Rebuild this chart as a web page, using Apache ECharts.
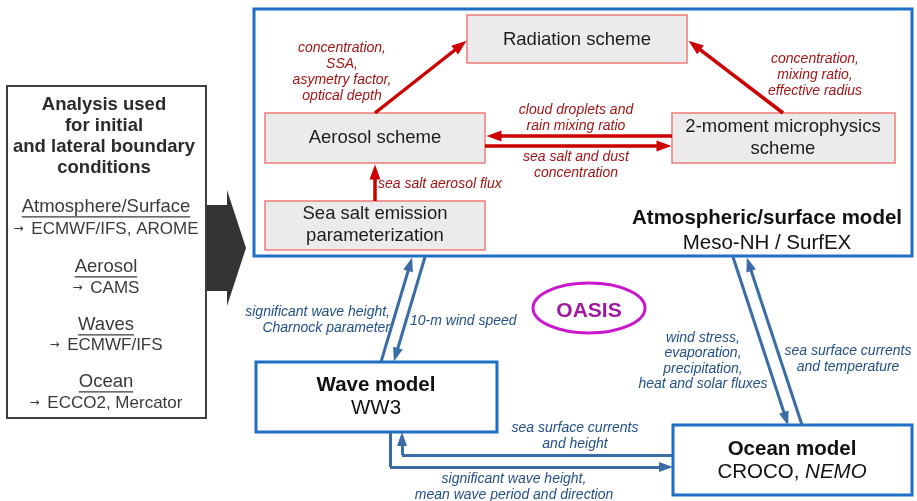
<!DOCTYPE html>
<html>
<head>
<meta charset="utf-8">
<script src="https://cdn.jsdelivr.net/npm/echarts@6/dist/echarts.min.js"></script>
<style>
  html, body { margin: 0; padding: 0; background: #fff; }
  #chartContainer { width: 917px; height: 501px; }
</style>
</head>
<body>
<div id="chartContainer"></div>
<script>
// Textos del diagrama
const analysisTitle = ['Analysis used', 'for initial', 'and lateral boundary', 'conditions'];
const analysisSources = ['Atmosphere/Surface', 'Aerosol', 'Waves', 'Ocean'];
const analysisProducts = ['\u2192 ECMWF/IFS, AROME', '\u2192 CAMS', '\u2192 ECMWF/IFS', '\u2192 ECCO2, Mercator'];
const schemeNames = ['Radiation scheme', 'Aerosol scheme', 'Sea salt emission\nparameterization', '2-moment microphysics\nscheme'];
const modelNames = ['Atmospheric/surface model', 'Wave model', 'Ocean model'];
const modelCodes = ['Meso-NH / SurfEX', 'WW3', 'CROCO, NEMO'];
const italicCodes = ['NEMO'];
const aerosolFluxes = [
  'concentration,\nSSA,\nasymetry factor,\noptical depth',
  'concentration,\nmixing ratio,\neffective radius',
  'cloud droplets and\nrain mixing ratio',
  'sea salt and dust\nconcentration',
  'sea salt aerosol flux'
];
const couplingFluxes = [
  'significant wave height,\nCharnock parameter',
  '10-m wind speed',
  'wind stress,\nevaporation,\nprecipitation,\nheat and solar fluxes',
  'sea surface currents\nand temperature',
  'sea surface currents\nand height',
  'significant wave height,\nmean wave period and direction'
];
const couplerName = 'OASIS';

// Disposición (coordenadas del lienzo, eje y invertido)
const analysisBox = [7, 86, 206, 418];
const schemeBoxes = [[467, 15, 687, 63], [265, 113, 485, 163], [265, 201, 485, 250], [672, 113, 895, 163]];
const modelBoxes = [[254, 9, 912, 256], [256, 362, 497, 432], [673, 425, 912, 495]];
const schemeTextAt = [[577, 40], [375, 138], [375, 225], [783, 138]];
const modelNameAt = [[767, 218], [376, 385], [792, 449]];
const modelCodeAt = [[767, 243], [376, 408], [792, 472]];
const analysisTitleAt = [104, 105];
const sourceRows = [207, 267, 325, 382];
const productRows = [229, 288, 345, 403];
const aerosolFluxAt = [[342, 72, 'center'], [815, 75, 'center'], [576, 118, 'center'], [576, 165, 'center'], [378, 184, 'left']];
const couplingFluxAt = [[390, 320, 'right'], [410, 321, 'left'], [703, 361, 'center'], [848, 359, 'center'], [575, 436, 'center'], [514, 487, 'center']];
const oasisAt = { c: [589, 308], rx: 56, ry: 25 };
const bigArrow = [[207, 205], [227, 205], [227, 190], [246, 248], [227, 306], [227, 291], [207, 291]];

const redArrows = [
  [[375, 113], [460.6, 45.5]],
  [[783, 113], [694.5, 45.3]],
  [[672, 136], [494, 136]],
  [[485, 146], [664, 146]],
  [[375, 201], [375, 172]]
];
const blueArrows = [
  [[381, 362], [410.1, 264.2]],
  [[425, 257], [395.9, 354.8]],
  [[733, 257], [786, 418.8]],
  [[802, 425], [749, 264.2]],
  [[402, 455], [402, 439]],
  [[390, 467], [666, 467]]
];
const blueLinks = [
  [[672, 455], [402, 455]],
  [[390, 432], [390, 467]]
];

const fontFamily = '"Liberation Sans", Arial, sans-serif';
const textStyles = {
  title: { fontSize: 18.5, fontWeight: 'bold', fill: '#2b2b2b', lineHeight: 21 },
  source: { fontSize: 18.5, fill: '#3a3a3a', underline: true },
  product: { fontSize: 17, fill: '#3a3a3a' },
  scheme: { fontSize: 18.5, fill: '#1c1c1c', lineHeight: 22 },
  modelName: { fontSize: 20.5, fontWeight: 'bold', fill: '#111' },
  modelCode: { fontSize: 20.5, fill: '#111' },
  red: { fontSize: 14, fontStyle: 'italic', fill: '#a31616', lineHeight: 16 },
  blue: { fontSize: 14, fontStyle: 'italic', fill: '#22508a', lineHeight: 15.5 },
  oasis: { fontSize: 21, fontWeight: 'bold', fill: '#a0189e' }
};

const measureCtx = document.createElement('canvas').getContext('2d');
function textWidth(str, st) {
  measureCtx.font = (st.fontWeight || 'normal') + ' ' + st.fontSize + 'px ' + fontFamily;
  return measureCtx.measureText(str).width;
}

// Lista de textos
const textSpecs = [];
analysisTitle.forEach((t, i) => textSpecs.push({ text: t, at: [analysisTitleAt[0], analysisTitleAt[1] + i * 21], st: 'title' }));
analysisSources.forEach((t, i) => textSpecs.push({ text: t, at: [106, sourceRows[i]], st: 'source' }));
analysisProducts.forEach((t, i) => textSpecs.push({ text: t, at: [106, productRows[i]], st: 'product' }));
schemeNames.forEach((t, i) => textSpecs.push({ text: t, at: schemeTextAt[i], st: 'scheme' }));
modelNames.forEach((t, i) => textSpecs.push({ text: t, at: modelNameAt[i], st: 'modelName' }));
modelCodes.forEach((t, i) => textSpecs.push({ text: t, at: modelCodeAt[i], st: 'modelCode' }));
aerosolFluxes.forEach((t, i) => textSpecs.push({ text: t, at: aerosolFluxAt[i].slice(0, 2), align: aerosolFluxAt[i][2], st: 'red' }));
couplingFluxes.forEach((t, i) => textSpecs.push({ text: t, at: couplingFluxAt[i].slice(0, 2), align: couplingFluxAt[i][2], st: 'blue' }));
textSpecs.push({ text: couplerName, at: [oasisAt.c[0], oasisAt.c[1] + 3], st: 'oasis' });

// Cajas
const boxSpecs = [{ r: analysisBox, kind: 'analysis' }]
  .concat(modelBoxes.map(r => ({ r: r, kind: 'model' })))
  .concat(schemeBoxes.map(r => ({ r: r, kind: 'scheme' })));
const boxStyles = {
  analysis: { fill: '#fff', stroke: '#3d3d3d', lineWidth: 2 },
  model: { fill: '#fff', stroke: '#1f6fc5', lineWidth: 3 },
  scheme: { fill: '#ebebeb', stroke: '#f07a7a', lineWidth: 1.5 }
};

function renderBox(params, api) {
  const b = boxSpecs[params.dataIndex];
  const p0 = api.coord([api.value(0), api.value(1)]);
  const p1 = api.coord([api.value(2), api.value(3)]);
  return {
    type: 'rect',
    shape: { x: p0[0], y: p0[1], width: p1[0] - p0[0], height: p1[1] - p0[1] },
    style: boxStyles[b.kind]
  };
}

function renderText(params, api) {
  const s = textSpecs[params.dataIndex];
  const st = textStyles[s.st];
  const p = api.coord([api.value(0), api.value(1)]);
  let text = s.text;
  const rich = {};
  italicCodes.forEach(w => {
    if (s.st === 'modelCode' && text.indexOf(w) >= 0) {
      text = text.replace(w, '{i|' + w + '}');
      rich.i = { fontSize: st.fontSize, fontStyle: 'italic', fontFamily: fontFamily, fill: st.fill };
    }
  });
  if (text.charAt(0) === '\u2192') {
    // flecha pequeña como en el original
    text = '{a|\u2192}' + text.slice(1);
    rich.a = { fontSize: 12, fontFamily: '"DejaVu Sans", sans-serif', fill: st.fill, padding: [0, 3, 0, 0] };
  }
  const el = {
    type: 'text',
    x: p[0], y: p[1],
    style: {
      text: text,
      rich: rich,
      fontFamily: fontFamily,
      fontSize: st.fontSize,
      fontWeight: st.fontWeight || 'normal',
      fontStyle: st.fontStyle || 'normal',
      fill: st.fill,
      lineHeight: st.lineHeight,
      align: s.align || 'center',
      verticalAlign: 'middle'
    }
  };
  if (!st.underline) return el;
  const w = textWidth(s.text, st);
  const uy = p[1] + st.fontSize * 0.53;
  return {
    type: 'group',
    children: [el, {
      type: 'line',
      shape: { x1: p[0] - w / 2, y1: uy, x2: p[0] + w / 2, y2: uy },
      style: { stroke: st.fill, lineWidth: 1.2 }
    }]
  };
}

function renderShapes(params, api) {
  if (params.dataIndex === 0) {
    const pts = bigArrow.map(q => api.coord(q));
    return { type: 'polygon', shape: { points: pts }, style: { fill: '#333333' } };
  }
  const c = api.coord([api.value(0), api.value(1)]);
  return {
    type: 'ellipse',
    shape: { cx: c[0], cy: c[1], rx: oasisAt.rx, ry: oasisAt.ry },
    style: { fill: 'none', stroke: '#cc16cc', lineWidth: 3 }
  };
}

const chart = echarts.init(document.getElementById('chartContainer'));

chart.setOption({
  animation: false,
  grid: { left: 0, right: 0, top: 0, bottom: 0 },
  xAxis: { type: 'value', min: 0, max: 917, show: false },
  yAxis: { type: 'value', min: 0, max: 501, inverse: true, show: false },
  series: [
    {
      type: 'custom', name: 'boxes', z: 1,
      renderItem: renderBox,
      data: boxSpecs.map(b => b.r)
    },
    {
      type: 'custom', name: 'shapes', z: 2,
      renderItem: renderShapes,
      data: [bigArrow[0], oasisAt.c]
    },
    {
      type: 'lines', name: 'aerosol links', coordinateSystem: 'cartesian2d', z: 3,
      symbol: ['none', 'triangle'], symbolSize: [0, [11, 15]],
      lineStyle: { color: '#cc0000', width: 3.5, opacity: 1 },
      data: redArrows.map(c => ({ coords: c }))
    },
    {
      type: 'lines', name: 'coupling links', coordinateSystem: 'cartesian2d', z: 3,
      symbol: ['none', 'triangle'], symbolSize: [0, [10, 14]],
      lineStyle: { color: '#3a6ca6', width: 3, opacity: 1 },
      data: blueArrows.map(c => ({ coords: c }))
    },
    {
      type: 'lines', name: 'coupling paths', coordinateSystem: 'cartesian2d', z: 3,
      symbol: 'none',
      lineStyle: { color: '#3a6ca6', width: 3, opacity: 1 },
      data: blueLinks.map(c => ({ coords: c }))
    },
    {
      type: 'custom', name: 'labels', z: 4,
      renderItem: renderText,
      data: textSpecs.map(s => s.at)
    }
  ]
});
</script>
</body>
</html>
